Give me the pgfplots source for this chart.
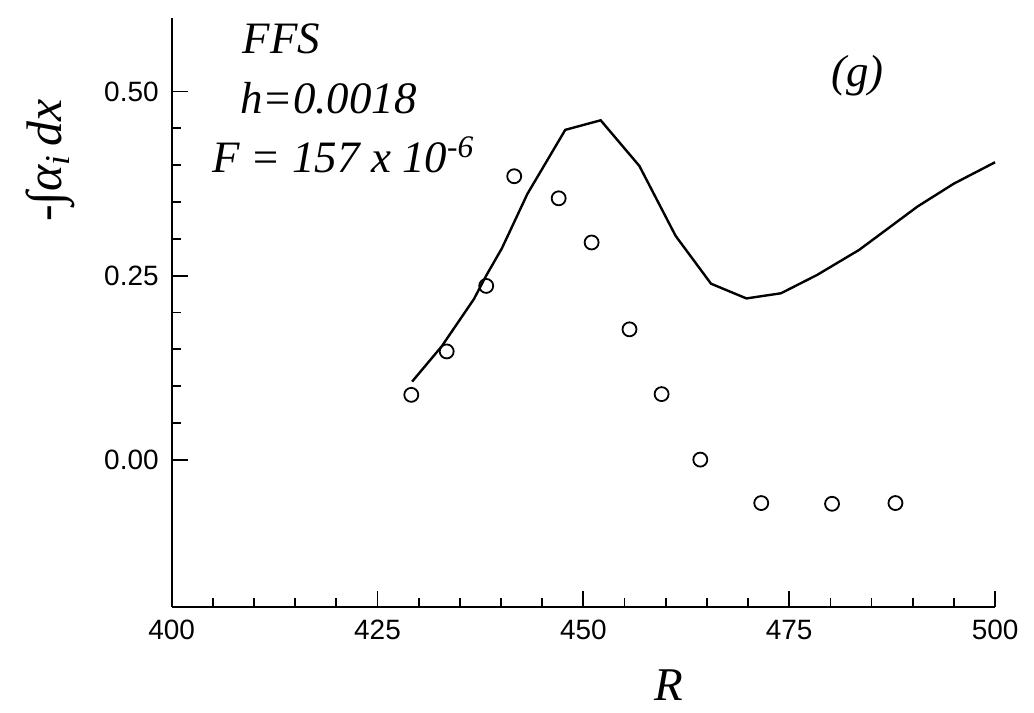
\documentclass[border=0pt]{standalone}
\usepackage{fontspec}
\setmainfont{Liberation Sans}
\newfontfamily\tms{Liberation Serif}
\usepackage{pgfplots}
\pgfplotsset{compat=1.18}
\begin{document}
\begin{tikzpicture}
\path[use as bounding box] (-86pt,-53pt) rectangle (432pt,304pt);
\begin{axis}[
  at={(0,0)}, anchor=south west,
  scale only axis, width=412.5pt, height=295pt,
  xmin=400, xmax=500, ymin=-0.2, ymax=0.6,
  axis x line=bottom, axis y line=left,
  axis line style={-, line width=1pt},
  xtick={400,425,450,475,500},
  ytick={0,0.25,0.5},
  minor x tick num=4, minor y tick num=4,
  tick align=inside,
  major tick length=8pt, minor tick length=4.5pt,
  every tick/.style={black, line width=0.9pt},
  /pgf/number format/assume math mode=true,
  yticklabel style={/pgf/number format/fixed, /pgf/number format/fixed zerofill, /pgf/number format/precision=2, xshift=-3pt},
  xticklabel style={/pgf/number format/fixed, /pgf/number format/precision=0, yshift=-3pt},
  ticklabel style={font=\fontsize{14}{16}\selectfont},
  clip=false,
]
\addplot[black, line width=1.2pt, mark=none] coordinates {
(429.2,0.106) (432.8,0.154) (436.7,0.218) (438.2,0.250) (440.1,0.287)
(440.9,0.306) (443.2,0.361) (447.8,0.448) (452.1,0.461) (456.8,0.399)
(461.2,0.304) (465.5,0.239) (469.8,0.219) (474.0,0.226) (478.4,0.251)
(483.5,0.285) (490.6,0.344) (495.0,0.375) (500.0,0.404)
};
\addplot[only marks, mark=o, mark size=3.5pt, mark options={line width=0.9pt, black}] coordinates {
(429.1,0.088) (433.4,0.147) (438.2,0.236) (441.6,0.385) (447.0,0.355)
(451.0,0.295) (455.6,0.177) (459.5,0.089) (464.2,0.000) (471.6,-0.059)
(480.2,-0.060) (487.9,-0.059)
};
\end{axis}
\node[anchor=base] at (55pt,277pt) {\fontsize{22.5}{26}\selectfont\tms\itshape FFS};
\node[anchor=base] at (78.5pt,247pt) {\fontsize{22.5}{26}\selectfont\tms\itshape h=0.0018};
\node[anchor=base] at (86pt,217.5pt) {\fontsize{22.5}{26}\selectfont\tms\itshape F = 157 x 10\textsuperscript{-6}};
\node[anchor=center] at (343.5pt,266pt) {\fontsize{22.5}{26}\selectfont\tms\itshape (g)};
\node[anchor=base, inner sep=1pt] at (249pt,-47pt) {\fontsize{23.5}{26}\selectfont\tms\itshape R};
\node[anchor=base, rotate=90] at (-55pt,223.5pt) {\fontsize{25}{28}\selectfont\tms -∫\itshape α\textsubscript{i}\,dx};
\end{tikzpicture}
\end{document}
